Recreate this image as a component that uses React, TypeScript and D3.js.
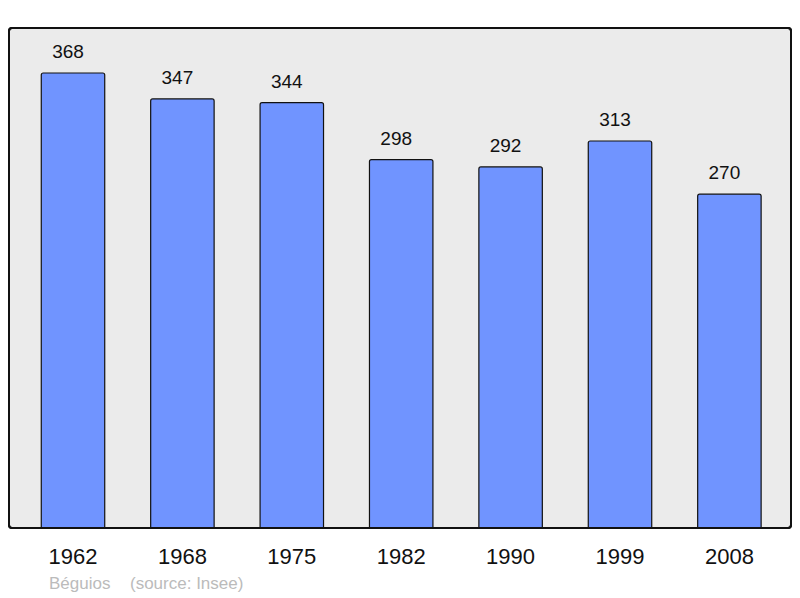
import React from "react";
import * as d3 from "d3";

const years = ["1962", "1968", "1975", "1982", "1990", "1999", "2008"];
const population = [368, 347, 344, 298, 292, 313, 270];
const footerName = "Béguios";
const footerSource = "(source: Insee)";

const W = 800;
const H = 598;
const panel = { x: 9, y: 28, w: 782, h: 500 };

export default function App() {
  const step = 109.4;
  const x = d3
    .scaleBand<string>()
    .domain(years)
    .range([73 - step / 2, 73 - step / 2 + step * years.length])
    .paddingInner(0.42)
    .paddingOuter(0.21);
  const y = d3.scaleLinear().domain([0, 404.4]).range([panel.y + panel.h, panel.y]);
  const font = "'Liberation Sans', Arial, sans-serif";

  return (
    <div style={{ position: "fixed", left: 0, top: 0 }}>
      <svg width={W} height={H} style={{ display: "block" }}>
        <rect x={0} y={0} width={W} height={H} fill="#ffffff" />
        <rect
          x={panel.x}
          y={panel.y}
          width={panel.w}
          height={panel.h}
          rx={3}
          fill="#ebebeb"
          stroke="#111"
          strokeWidth={2}
        />
        {years.map((yr, i) => {
          const v = population[i];
          const bx = x(yr)!;
          const bw = x.bandwidth();
          const top = y(v);
          return (
            <g key={yr}>
              <path
                d={`M${bx},${y(0)} V${top + 2} Q${bx},${top} ${bx + 2},${top} H${bx + bw - 2} Q${bx + bw},${top} ${bx + bw},${top + 2} V${y(0)}`}
                fill="#7094ff"
                stroke="#111"
                strokeWidth={1.2}
              />
              <text
                x={bx + bw / 2 - 5}
                y={top - 14.7}
                textAnchor="middle"
                fontFamily={font}
                fontSize={19}
                fill="#111"
              >
                {v}
              </text>
              <text
                x={bx + bw / 2}
                y={564}
                textAnchor="middle"
                fontFamily={font}
                fontSize={22}
                fill="#111"
              >
                {yr}
              </text>
            </g>
          );
        })}
        <rect
          x={panel.x}
          y={panel.y}
          width={panel.w}
          height={panel.h}
          rx={3}
          fill="none"
          stroke="#111"
          strokeWidth={2}
        />
        <text x={49} y={589} fontFamily={font} fontSize={17} fill="#bbbbbb">
          {footerName}
        </text>
        <text x={130} y={589} fontFamily={font} fontSize={17} fill="#bbbbbb">
          {footerSource}
        </text>
      </svg>
    </div>
  );
}
